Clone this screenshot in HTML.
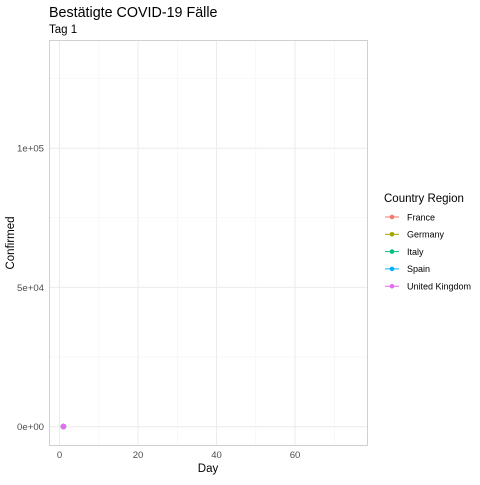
<!DOCTYPE html>
<html><head><meta charset="utf-8"><style>
body{margin:0;background:#fff;font-family:"Liberation Sans",sans-serif}
</style></head><body>
<svg id="chart" width="480" height="480" xmlns="http://www.w3.org/2000/svg" font-family="Liberation Sans, sans-serif">
<text x="49" y="17" font-size="14.3" fill="#000">Bestätigte COVID-19 Fälle</text>
<text x="49" y="33" font-size="11.5" fill="#000">Tag 1</text>
<g id="grid"></g>
<rect x="49.5" y="40.5" width="318" height="405" fill="none" stroke="#d0d0d0"/>
<g id="marks"></g>
<g id="axes"></g>
<text x="208" y="472" font-size="11.5" text-anchor="middle">Day</text>
<text transform="translate(14,243) rotate(-90)" font-size="11.5" text-anchor="middle">Confirmed</text>
<text x="384" y="202" font-size="11.5">Country Region</text>
<g id="legend"></g>
</svg>
<script>
const countries=["France","Germany","Italy","Spain","United Kingdom"];
const colors=["#F8766D","#A3A500","#00BF7D","#00B0F6","#E76BF3"];
const days=[1,1,1,1,1];
const confirmed=[0,0,0,0,0];
const xTicks=[0,20,40,60];
const yTicks=[0,50000,100000];
const yTickLabels=["0e+00","5e+04","1e+05"];
const ns="http://www.w3.org/2000/svg";
const L=49.5,R=367.5,T=40.5,B=445.5;
const xMin=-2.55,xMax=78.45,yMin=-6800,yMax=138700;
const X=v=>L+(v-xMin)/(xMax-xMin)*(R-L);
const Y=v=>B-(v-yMin)/(yMax-yMin)*(B-T);
function mk(tag,attrs,parent){const e=document.createElementNS(ns,tag);for(const k in attrs)e.setAttribute(k,attrs[k]);parent.appendChild(e);return e;}
const grid=document.getElementById('grid'),axes=document.getElementById('axes'),marks=document.getElementById('marks'),leg=document.getElementById('legend');
for(let v=10;v<=70;v+=20){const l=mk('line',{x1:X(v),x2:X(v),y1:T,y2:B,stroke:'#f3f3f3','stroke-width':0.6},grid);

}
for(let v=25000;v<=125000;v+=50000){const l=mk('line',{x1:L,x2:R,y1:Y(v),y2:Y(v),stroke:'#f3f3f3','stroke-width':0.6},grid);

}
xTicks.forEach(v=>{const l=mk('line',{x1:X(v),x2:X(v),y1:T,y2:B,stroke:'#ebebeb','stroke-width':1},grid);


const t=mk('text',{x:X(v),y:458,'font-size':9.6,fill:'#4d4d4d','text-anchor':'middle'},axes);t.textContent=v;

});
yTicks.forEach((v,i)=>{const l=mk('line',{x1:L,x2:R,y1:Y(v),y2:Y(v),stroke:'#ebebeb','stroke-width':1},grid);


const t=mk('text',{x:44,y:Y(v)+3.5,'font-size':9.6,fill:'#4d4d4d','text-anchor':'end'},axes);t.textContent=yTickLabels[i];

});
countries.forEach((c,i)=>{const p=mk('circle',{cx:X(days[i]),cy:Y(confirmed[i]),r:2.8,fill:colors[i]},marks);


const y=217+i*17.3;
const g=mk('g',{},leg);


mk('line',{x1:385,x2:399,y1:y,y2:y,stroke:colors[i],'stroke-width':1},g);
mk('circle',{cx:392,cy:y,r:2.3,fill:colors[i]},g);
const t=mk('text',{x:407,y:y+3.3,'font-size':9,fill:'#000'},g);t.textContent=c;});
</script>
</body></html>
